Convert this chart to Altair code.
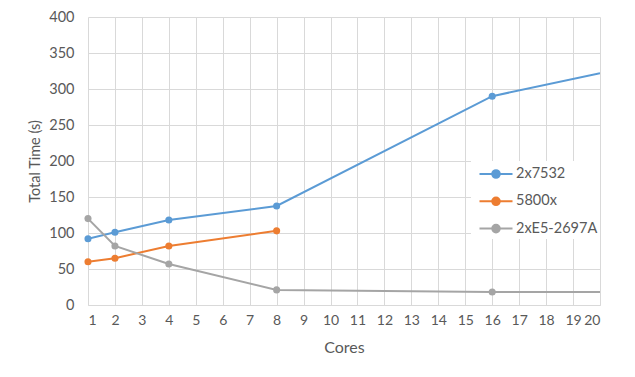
import altair as alt
import pandas as pd

cores = [1, 2, 4, 8, 16, 20]
s_7532 = [92, 101, 118, 137.5, 290, 322]
s_5800 = [60, 65, 82, 103, None, None]
s_e5 = [120, 82, 57, 21, 18, 18]
marker = [True, True, True, True, True, False]
series_names = ["2x7532", "5800x", "2xE5-2697A"]
colors = ["#5b9bd5", "#ed7d31", "#a5a5a5"]

rows = []
for name, vals in zip(series_names, [s_7532, s_5800, s_e5]):
    for c, v, m in zip(cores, vals, marker):
        if v is not None:
            rows.append({"cores": c, "time": v, "series": name, "marker": m})
df = pd.DataFrame(rows)

FONT = "Lato"
sym = "M-1.65,0H1.65M0.38,0A0.38,0.38,0,1,1,-0.38,0A0.38,0.38,0,1,1,0.38,0Z"

color = alt.Color(
    "series:N",
    scale=alt.Scale(domain=series_names, range=colors),
    sort=series_names,
    legend=alt.Legend(
        title=None, orient="none", legendX=383, legendY=144,
        fillColor="white", padding=2, symbolType=sym, symbolSize=400,
        symbolOffset=12, symbolStrokeWidth=2, labelFont=FONT, labelFontSize=14.5,
        labelColor="#595959", rowPadding=8.3, labelOffset=9,
    ),
)

x = alt.X("cores:Q", scale=alt.Scale(domain=[1, 20], nice=False),
          axis=alt.Axis(title="Cores", values=list(range(1, 21)), tickCount=20,
                        grid=True, gridColor="#d9d9d9", ticks=False,
                        domainColor="#d9d9d9", labelPadding=8, titlePadding=12,
                        labelFontSize=14, titleFontSize=16))
y = alt.Y("time:Q", scale=alt.Scale(domain=[0, 400], nice=False),
          axis=alt.Axis(title="Total Time (s)", values=list(range(0, 401, 50)),
                        grid=True, gridColor="#d9d9d9", ticks=False, domain=False,
                        labelPadding=14, titlePadding=6,
                        labelFontSize=14.5, titleFontSize=14.5))

lines = alt.Chart(df).mark_line(strokeWidth=2, clip=True).encode(
    x=x, y=y, color=color, detail="series:N")
pts = alt.Chart(df).transform_filter("datum.marker").mark_circle(
    size=50, opacity=1).encode(x=x, y=y, color=alt.Color("series:N", legend=None,
    scale=alt.Scale(domain=series_names, range=colors)))

chart = alt.layer(lines, pts).properties(
    width=512, height=288,
    autosize=alt.AutoSizeParams(type="none"),
    padding={"left": 88, "top": 17, "right": 35, "bottom": 72},
).configure_view(stroke=None).configure_axis(
    labelFont=FONT, titleFont=FONT, labelColor="#595959", titleColor="#595959",
    titleFontWeight="normal",
)

chart.save("out.html", embed_options={"renderer": "svg", "actions": False})
